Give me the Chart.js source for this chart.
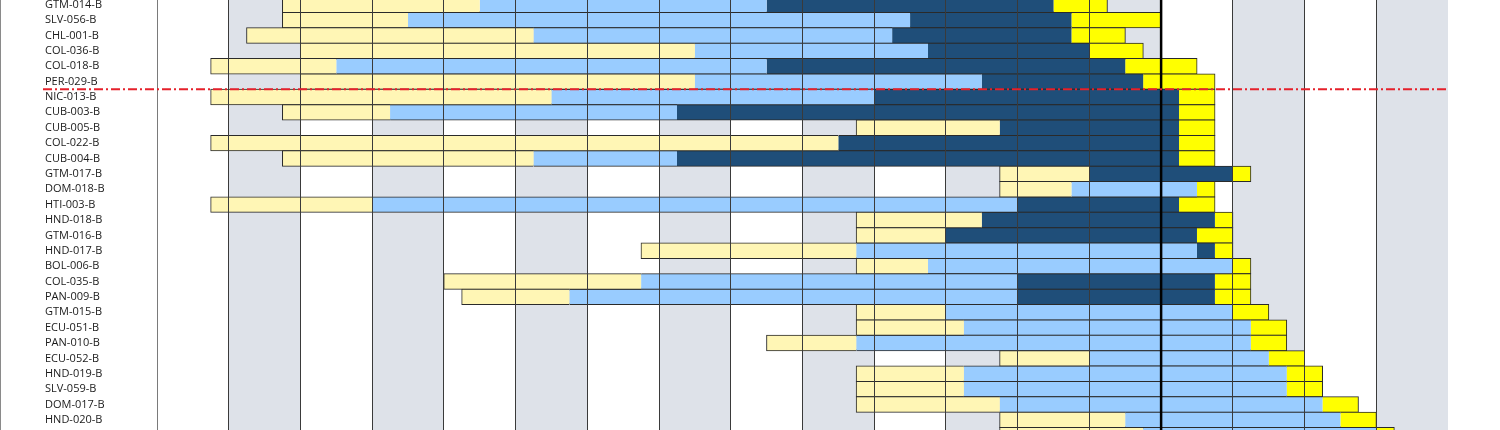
<!DOCTYPE html>
<html>
<head>
<meta charset="utf-8">
<script src="https://cdn.jsdelivr.net/npm/chart.js@4/dist/chart.umd.min.js"></script>
<style>
  html, body { margin: 0; padding: 0; background: #fff; overflow: hidden; }
  #wrap { position: absolute; left: 0; top: -3px; width: 1500px; height: 446px; }
</style>
</head>
<body>
<div id="wrap"><canvas id="gantt"></canvas></div>
<script>
// rows (last one is only cut in at the bottom edge)
const projects = ['GTM-014-B', 'SLV-056-B', 'CHL-001-B', 'COL-036-B', 'COL-018-B', 'PER-029-B',
  'NIC-013-B', 'CUB-003-B', 'CUB-005-B', 'COL-022-B', 'CUB-004-B', 'GTM-017-B', 'DOM-018-B',
  'HTI-003-B', 'HND-018-B', 'GTM-016-B', 'HND-017-B', 'BOL-006-B', 'COL-035-B', 'PAN-009-B',
  'GTM-015-B', 'ECU-051-B', 'PAN-010-B', 'ECU-052-B', 'HND-019-B', 'SLV-059-B', 'DOM-017-B',
  'HND-020-B', ''];

// phase 1 (light yellow)
const phase1 = [[1.75, 4.5], [1.75, 3.5], [1.25, 5.25], [2, 7.5], [0.75, 2.5], [2, 7.5],
  [0.75, 5.5], [1.75, 3.25], [9.75, 11.75], [0.75, 9.5], [1.75, 5.25], [11.75, 13], [11.75, 12.75],
  [0.75, 3], [9.75, 11.5], [9.75, 11], [6.75, 9.75], [9.75, 10.75], [4, 6.75], [4.25, 5.75],
  [9.75, 11], [9.75, 11.25], [8.5, 9.75], [11.75, 13], [9.75, 11.25], [9.75, 11.25], [9.75, 11.75],
  [11.75, 13.5], [11.75, 13.75]];

// phase 2 (light blue)
const phase2 = [[4.5, 8.5], [3.5, 10.5], [5.25, 10.25], [7.5, 10.75], [2.5, 8.5], [7.5, 11.5],
  [5.5, 10], [3.25, 7.25], null, null, [5.25, 7.25], null, [12.75, 14.5],
  [3, 12], null, null, [9.75, 14.5], [10.75, 15], [6.75, 12], [5.75, 12],
  [11, 15], [11.25, 15.25], [9.75, 15.25], [13, 15.5], [11.25, 15.75], [11.25, 15.75], [11.75, 16.25],
  [13.5, 16.5], [13.75, 17]];

// phase 3 (dark blue)
const phase3 = [[8.5, 12.5], [10.5, 12.75], [10.25, 12.75], [10.75, 13], [8.5, 13.5], [11.5, 13.75],
  [10, 14.25], [7.25, 14.25], [11.75, 14.25], [9.5, 14.25], [7.25, 14.25], [13, 15], null,
  [12, 14.25], [11.5, 14.75], [11, 14.5], [14.5, 14.75], null, [12, 14.75], [12, 14.75],
  null, null, null, null, null, null, null,
  null, null];

// phase 4 (yellow)
const phase4 = [[12.5, 13.25], [12.75, 14], [12.75, 13.5], [13, 13.75], [13.5, 14.5], [13.75, 14.75],
  [14.25, 14.75], [14.25, 14.75], [14.25, 14.75], [14.25, 14.75], [14.25, 14.75], [15, 15.25], [14.5, 14.75],
  [14.25, 14.75], [14.75, 15], [14.5, 15], [14.75, 15], [15, 15.25], [14.75, 15.25], [14.75, 15.25],
  [15, 15.5], [15.25, 15.75], [15.25, 15.75], [15.5, 16], [15.75, 16.25], [15.75, 16.25], [16.25, 16.75],
  [16.5, 17], [17, 17.25]];

const periods = 18;     // columns on the time axis
const todayMark = 14;   // thick black line
const cutAfterRow = 5;  // red dash-dot line below PER-029-B

const phases = [phase1, phase2, phase3, phase4];

// outline the whole bar, not the joins between phases
function edges(ctx) {
  if (ctx.type !== 'data') return 1;
  const has = phases.map(p => p[ctx.dataIndex] != null);
  return {
    top: 1,
    bottom: 1,
    left: has.indexOf(true) === ctx.datasetIndex ? 1 : 0,
    right: has.lastIndexOf(true) === ctx.datasetIndex ? 1 : 0
  };
}

const decor = {
  id: 'decor',
  beforeDraw(chart) {
    const { ctx, chartArea: a, scales: { x } } = chart;
    ctx.save();
    ctx.fillStyle = '#DEE2E9';
    for (let v = 1; v < periods; v += 2) {
      const x0 = x.getPixelForValue(v);
      const x1 = x.getPixelForValue(v + 1);
      ctx.fillRect(x0, a.top, x1 - x0, a.bottom - a.top);
    }
    ctx.restore();
  },
  afterDraw(chart) {
    const { ctx, chartArea: a, scales: { x, y } } = chart;
    ctx.save();

    // today
    const tx = x.getPixelForValue(todayMark);
    ctx.strokeStyle = '#000';
    ctx.lineWidth = 2.5;
    ctx.beginPath();
    ctx.moveTo(tx, a.top);
    ctx.lineTo(tx, a.bottom);
    ctx.stroke();

    // cut line
    const ry = (y.getPixelForValue(cutAfterRow) + y.getPixelForValue(cutAfterRow + 1)) / 2;
    ctx.strokeStyle = '#E5212B';
    ctx.lineWidth = 2;
    ctx.setLineDash([9, 3, 2, 3]);
    ctx.beginPath();
    ctx.moveTo(43, ry);
    ctx.lineTo(a.right, ry);
    ctx.stroke();
    ctx.setLineDash([]);

    // frame on the left
    ctx.strokeStyle = '#8a8a8a';
    ctx.lineWidth = 1;
    ctx.beginPath();
    ctx.moveTo(0.5, 0);
    ctx.lineTo(0.5, chart.height);
    ctx.stroke();
    ctx.restore();
  }
};

const common = {
  borderColor: '#2a2a2a',
  borderWidth: edges,
  borderSkipped: false,
  inflateAmount: 0.5,
  barPercentage: 1,
  categoryPercentage: 1,
  grouped: false
};

new Chart(document.getElementById('gantt'), {
  type: 'bar',
  data: {
    labels: projects,
    datasets: [
      { ...common, data: phase1, backgroundColor: '#FFF6B5' },
      { ...common, data: phase2, backgroundColor: '#99CCFF' },
      { ...common, data: phase3, backgroundColor: '#1F4E79' },
      { ...common, data: phase4, backgroundColor: '#FFFF00' }
    ]
  },
  options: {
    indexAxis: 'y',
    responsive: true,
    maintainAspectRatio: false,
    animation: false,
    devicePixelRatio: 1,
    layout: { autoPadding: false, padding: { left: 45, right: 52, top: 0, bottom: 0 } },
    plugins: { legend: { display: false }, tooltip: { enabled: false } },
    scales: {
      x: {
        type: 'linear',
        min: 0,
        max: periods,
        ticks: { display: false, stepSize: 1, maxTicksLimit: 40 },
        grid: {
          z: 1,
          drawTicks: false,
          lineWidth: 1,
          color: c => c.tick.value === 0 ? '#7a7a7a' : (c.tick.value === periods ? 'rgba(0,0,0,0)' : '#3a3a3a')
        },
        border: { display: false },
        afterFit: s => { s.height = 0; }
      },
      y: {
        ticks: {
          crossAlign: 'far',
          autoSkip: false,
          padding: 0,
          color: '#1a1a1a',
          font: { family: 'Open Sans', size: 11 }
        },
        grid: { display: false, drawTicks: false },
        border: { display: false },
        afterFit: s => { s.width = 112; s.paddingTop = 0; s.paddingBottom = 0; }
      }
    }
  },
  plugins: [decor]
});
</script>
</body>
</html>
